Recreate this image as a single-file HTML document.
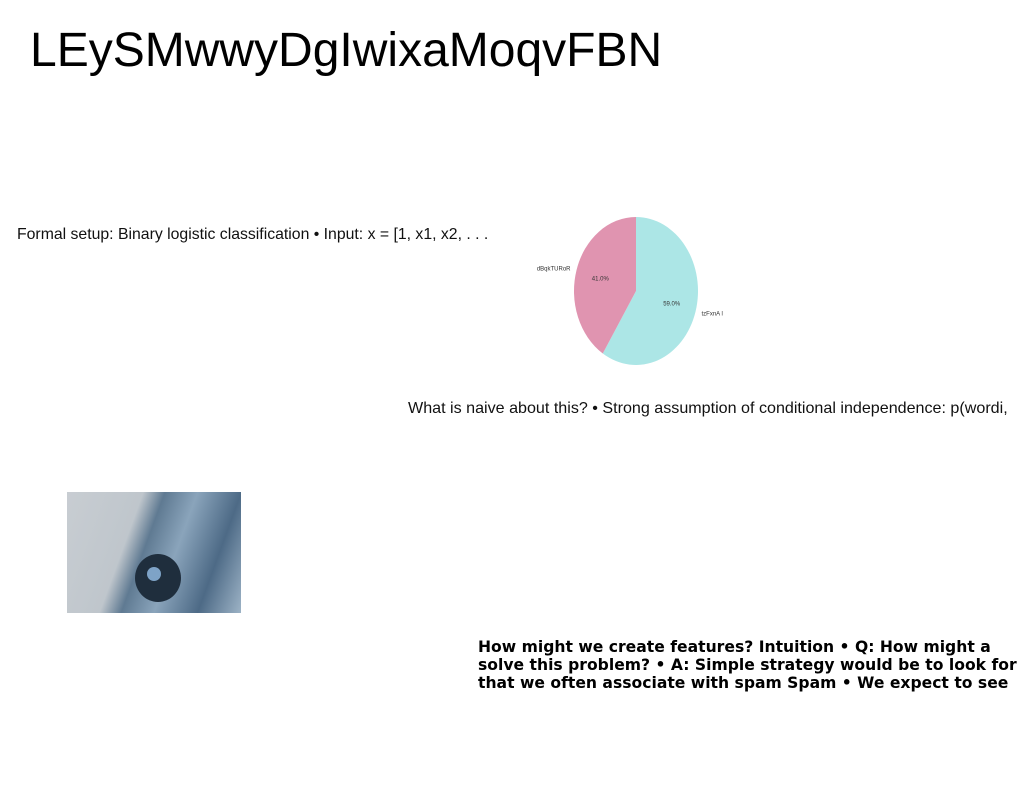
<!DOCTYPE html>
<html><head><meta charset="utf-8"><style>
body{margin:0;width:1024px;height:788px;background:#fff;position:relative;overflow:hidden;font-family:"Liberation Sans",sans-serif}
.t{position:absolute;white-space:nowrap}
</style></head><body>
<div class="t" style="left:30px;top:23px;font-size:48px;color:#000">LEySMwwyDgIwixaMoqvFBN</div>
<div class="t" style="left:17px;top:226px;font-size:15.8px;color:#111">Formal setup: Binary logistic classification • Input: x = [1, x1, x2, . . .</div>
<div class="t" style="left:408px;top:399px;font-size:16.1px;color:#111">What is naive about this? • Strong assumption of conditional independence: p(wordi,</div>
<div class="t" style="left:478px;top:638px;font-weight:bold;color:#000;font-family:'DejaVu Sans',sans-serif;font-size:15.6px;line-height:18px">How might we create features? Intuition • Q: How might a<br>solve this problem? • A: Simple strategy would be to look for<br>that we often associate with spam Spam • We expect to see</div>
<div style="position:absolute;left:67px;top:492px;width:174px;height:121px;background:linear-gradient(110deg,#c8cdd2 0%,#bfc6cc 35%,#5f7a92 45%,#8aa4bb 60%,#4d6a86 80%,#9db3c6 100%)">
<div style="position:absolute;left:68px;top:62px;width:46px;height:48px;border-radius:50%;background:#1f2e3d"></div>
<div style="position:absolute;left:80px;top:75px;width:14px;height:14px;border-radius:50%;background:#7ea3c7"></div>
</div>
<svg id="pie" width="1024" height="788" style="position:absolute;left:0;top:0"></svg>
<script>
const labels=["tzFxnA l","dBqkTURoR"];
const values=[59,41];
const colors=["#ace6e6","#e094b0"];
const svg=document.getElementById('pie');
const cx=636,cy=291,rx=62,ry=74;
const total=values.reduce((a,b)=>a+b,0);
let ang=0;
const NS="http://www.w3.org/2000/svg";
values.forEach((v,i)=>{
  const a0=ang,a1=ang+v/total*2*Math.PI;ang=a1;
  const p=a=>[cx+rx*Math.sin(a),cy-ry*Math.cos(a)];
  const [x0,y0]=p(a0),[x1,y1]=p(a1);
  const path=document.createElementNS(NS,'path');
  path.setAttribute('d',`M${cx},${cy}L${x0},${y0}A${rx},${ry} 0 ${a1-a0>Math.PI?1:0} 1 ${x1},${y1}Z`);
  path.setAttribute('fill',colors[i]);
  
  
  svg.appendChild(path);
  const m=(a0+a1)/2;
  const pt=document.createElementNS(NS,'text');
  pt.setAttribute('x',cx+rx*0.6*Math.sin(m));pt.setAttribute('y',cy-ry*0.6*Math.cos(m)+2);
  pt.setAttribute('font-size','6');pt.setAttribute('text-anchor','middle');pt.setAttribute('fill','#333');
  pt.textContent=(v/total*100).toFixed(1)+'%';
  
  
  svg.appendChild(pt);
  const lt=document.createElementNS(NS,'text');
  const s=Math.sin(m);
  lt.setAttribute('x',cx+rx*1.1*s);lt.setAttribute('y',cy-ry*1.1*Math.cos(m)+2);
  lt.setAttribute('font-size','6');lt.setAttribute('text-anchor',s>0?'start':'end');lt.setAttribute('fill','#333');
  lt.textContent=labels[i];
  
  
  svg.appendChild(lt);
});
</script>
</body></html>
